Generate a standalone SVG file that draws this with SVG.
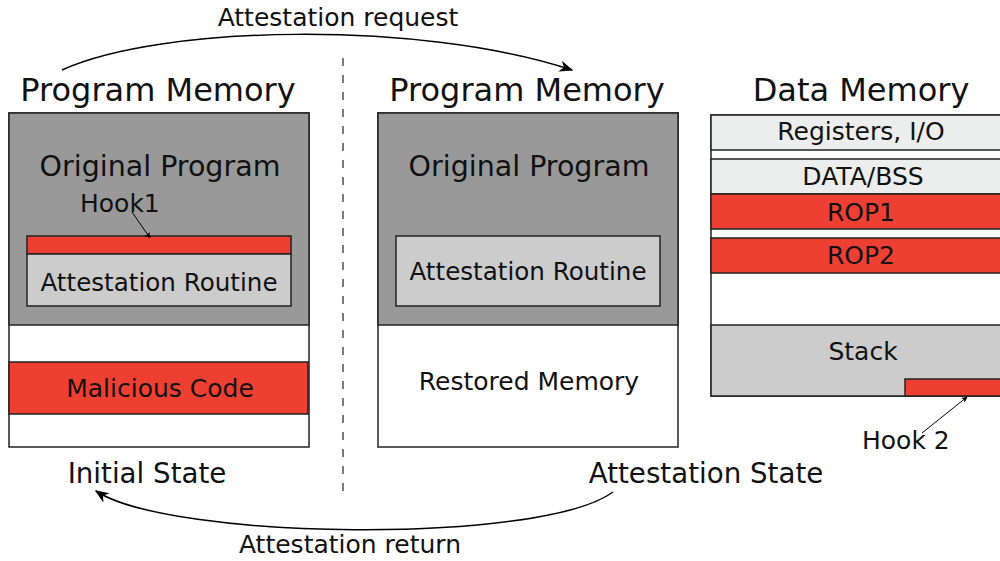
<svg xmlns="http://www.w3.org/2000/svg" width="1000" height="561" viewBox="0 0 1000 561">
<style>
text{font-family:"DejaVu Sans",sans-serif;fill:#111;text-anchor:middle}
.t{font-size:32px}
.m{font-size:28.5px}
.st{font-size:27.7px}
.s{font-size:24.6px}
.x{font-size:25px}
.b{stroke:#222;stroke-width:1.5}
.gray{fill:#999}
.lg{fill:#ccc}
.red{fill:#ee3f33}
.wh{fill:#fff}
.reg{fill:#eceeed}
.c{fill:none;stroke:#000;stroke-width:1.5}
.thin{fill:none;stroke:#000;stroke-width:1}
</style>
<defs>
<marker id="ah" viewBox="0 0 10 10" refX="9" refY="5" markerWidth="6" markerHeight="6" orient="auto" markerUnits="userSpaceOnUse">
<path d="M0,0 L10,5 L0,10 L2.5,5 z" fill="#000"/>
</marker>
<marker id="ab" viewBox="0 0 10 10" refX="9" refY="5" markerWidth="14" markerHeight="14" orient="auto" markerUnits="userSpaceOnUse">
<path d="M0,1 L10,5 L0,9 L3,5 z" fill="#000"/>
</marker>
</defs>

<g id="divider">
<line x1="343" y1="58" x2="343" y2="496" stroke="#222" stroke-width="1.2" stroke-dasharray="8,9"/>
</g>

<g id="program-memory-initial">
<text class="t" x="158" y="101">Program Memory</text>
<rect class="b wh" x="9" y="113" width="300" height="334"/>
<rect class="b gray" x="9" y="113" width="300" height="212"/>
<text class="m" x="160" y="176">Original Program</text>
<rect class="b red" x="27" y="236" width="264" height="18"/>
<rect class="b lg" x="27" y="254" width="264" height="52"/>
<text class="s" x="159" y="291">Attestation Routine</text>
<rect class="b red" x="9" y="362" width="299" height="52"/>
<text class="x" x="160" y="397">Malicious Code</text>
<text class="x" x="80" y="212" style="text-anchor:start">Hook1</text>
<text class="st" x="147" y="483">Initial State</text>
</g>

<g id="program-memory-attestation">
<text class="t" x="527" y="101">Program Memory</text>
<rect class="b wh" x="378" y="113" width="300" height="334"/>
<rect class="b gray" x="378" y="113" width="300" height="212"/>
<text class="m" x="529" y="176">Original Program</text>
<rect class="b lg" x="396" y="236" width="264" height="70"/>
<text class="s" x="528" y="280">Attestation Routine</text>
<text class="x" x="529" y="390">Restored Memory</text>
<text class="st" x="706" y="483">Attestation State</text>
</g>

<g id="data-memory">
<text class="t" x="861" y="101">Data Memory</text>
<rect class="b wh" x="711" y="115" width="300" height="281"/>
<rect class="b reg" x="711" y="115" width="300" height="35"/>
<text class="x" x="861" y="140">Registers, I/O</text>
<rect class="b reg" x="711" y="159" width="300" height="35"/>
<text class="x" x="863" y="185">DATA/BSS</text>
<rect class="b red" x="711" y="194" width="300" height="35"/>
<text class="x" x="861" y="221">ROP1</text>
<rect class="b red" x="711" y="238" width="300" height="35"/>
<text class="x" x="861" y="264">ROP2</text>
<rect class="b lg" x="711" y="325" width="300" height="71"/>
<text class="x" x="863" y="360">Stack</text>
<rect class="b red" x="905" y="379" width="106" height="17"/>
<text class="x" x="862" y="449" style="text-anchor:start">Hook 2</text>
</g>

<g id="connectors">
<path class="c" d="M62,70 C160,25 420,20 572,70" marker-end="url(#ab)"/>
<path class="c" d="M613,492 C540,545 170,540 96,491" marker-end="url(#ab)"/>
<line class="thin" x1="132" y1="212" x2="150" y2="238" marker-end="url(#ah)"/>
<line class="thin" x1="922" y1="433" x2="967" y2="397" marker-end="url(#ah)"/>
</g>

<g id="labels">
<text class="x" x="338" y="26">Attestation request</text>
<text class="x" x="350" y="553">Attestation return</text>
</g>
</svg>
